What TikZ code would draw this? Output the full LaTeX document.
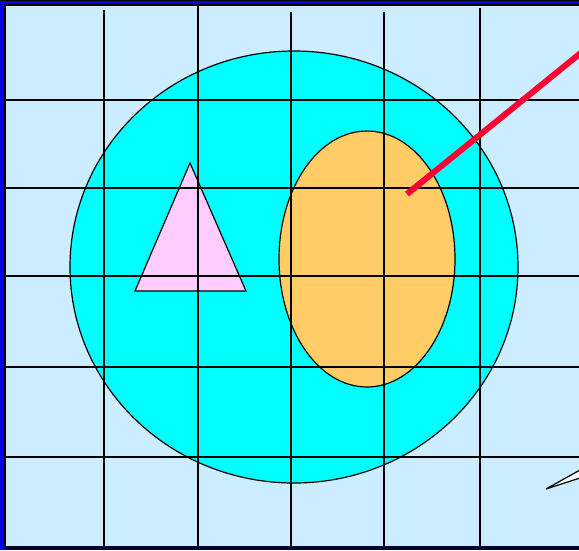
\documentclass[tikz,border=0pt]{standalone}
\definecolor{bgblue}{RGB}{204,236,255}
\definecolor{frameblue}{RGB}{0,0,230}
\definecolor{cyanfill}{RGB}{0,255,255}
\definecolor{orangefill}{RGB}{255,204,102}
\definecolor{pinkfill}{RGB}{255,204,255}
\definecolor{redline}{RGB}{255,0,51}
\begin{document}
\begin{tikzpicture}[x=1pt,y=-1pt,
  gridline/.style={line width=1.6pt,black},
  shapeline/.style={line width=1.2pt,black}]
\useasboundingbox (0,0) rectangle (579,550);
% frame
\fill[frameblue] (0,0) rectangle (579,550);
\fill[black] (0,0) rectangle (579,1);
\fill[bgblue] (6,6) rectangle (579,546);
\draw[black,line width=2pt] (579,5) -- (5,5) -- (5,547);
\fill[black!80!blue] (5,546) rectangle (579,550);
% circle
\filldraw[shapeline,fill=cyanfill] (294,267) ellipse [x radius=224, y radius=216];
% orange ellipse
\filldraw[shapeline,fill=orangefill] (367,259) ellipse [x radius=88, y radius=128];
% triangle
\coordinate (ta) at (190,163);
\coordinate (tb) at (135,291);
\coordinate (tc) at (246,291);
\filldraw[shapeline,fill=pinkfill] (ta) -- (tb) -- (tc) -- cycle;
% grid
\foreach \x/\t in {104/10,198/5,291/12,384/12,480/8}
  \draw[gridline] (\x,\t) -- (\x,547);
\foreach \y in {100,188,276,367,457}
  \draw[gridline] (6,\y) -- (579,\y);
% red line
\coordinate (r1) at (407,194);
\coordinate (r2) at (582,52);
\draw[redline,line width=6pt] (r1) -- (r2);
% spike
\coordinate (s1) at (546,489);
\coordinate (s2) at (580,470);
\coordinate (s3) at (580,478);
\filldraw[line width=1.2pt,fill=white] (s2) -- (s1) -- (s3);
\end{tikzpicture}
\end{document}
